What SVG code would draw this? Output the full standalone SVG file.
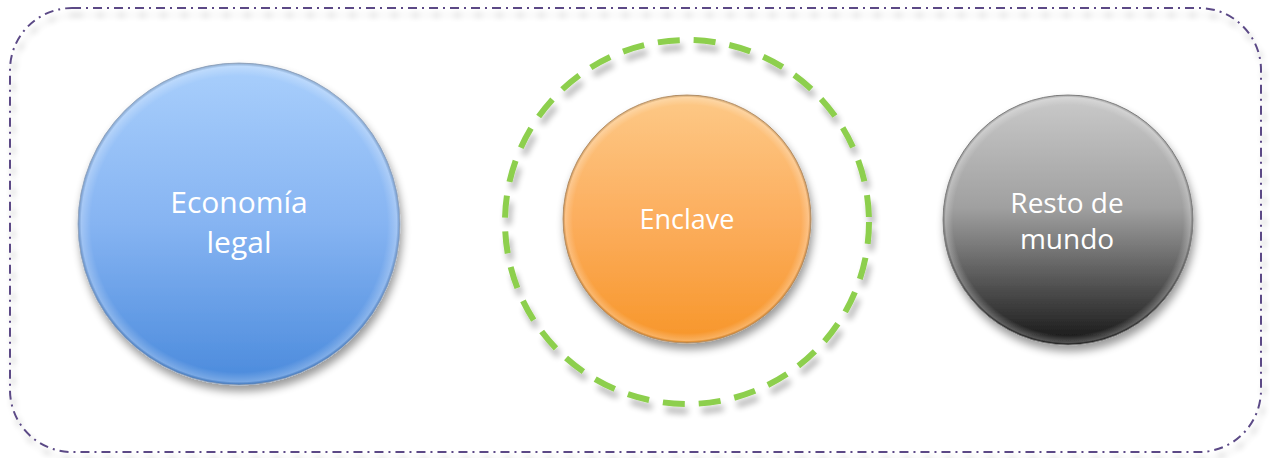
<svg xmlns="http://www.w3.org/2000/svg" width="1270" height="458" viewBox="0 0 1270 458">
<defs>
<linearGradient id="gBlue" x1="0" y1="0" x2="0" y2="1">
<stop offset="0" stop-color="#a9cffc"/>
<stop offset="0.5" stop-color="#86b4f2"/>
<stop offset="1" stop-color="#4a8adc"/>
</linearGradient>
<linearGradient id="gOrange" x1="0" y1="0" x2="0" y2="1">
<stop offset="0" stop-color="#fdc987"/>
<stop offset="0.5" stop-color="#fcae5e"/>
<stop offset="1" stop-color="#f7962a"/>
</linearGradient>
<linearGradient id="gGray" x1="0" y1="0" x2="0" y2="1">
<stop offset="0" stop-color="#cacaca"/>
<stop offset="0.45" stop-color="#a0a0a0"/>
<stop offset="1" stop-color="#151515"/>
</linearGradient>
<radialGradient id="gRim" cx="0.5" cy="0.5" r="0.5">
<stop offset="0.92" stop-color="#ffffff" stop-opacity="0"/>
<stop offset="0.98" stop-color="#ffffff" stop-opacity="0.25"/>
<stop offset="1" stop-color="#000000" stop-opacity="0.15"/>
</radialGradient>
<filter id="shadow" x="-20%" y="-20%" width="140%" height="150%">
<feGaussianBlur in="SourceAlpha" stdDeviation="4"/>
<feOffset dx="2" dy="6" result="b"/>
<feComponentTransfer><feFuncA type="linear" slope="0.4"/></feComponentTransfer>
<feMerge><feMergeNode/><feMergeNode in="SourceGraphic"/></feMerge>
</filter>
<filter id="shadowLine" x="-10%" y="-10%" width="120%" height="125%">
<feGaussianBlur in="SourceAlpha" stdDeviation="3"/>
<feOffset dx="3" dy="7" result="b"/>
<feComponentTransfer><feFuncA type="linear" slope="0.3"/></feComponentTransfer>
<feMerge><feMergeNode/><feMergeNode in="SourceGraphic"/></feMerge>
</filter>
</defs>
<style>
.lbl{font-family:"Open Sans","Noto Sans","DejaVu Sans",sans-serif;fill:#ffffff;text-anchor:middle;}
</style>
<g id="frame">
<rect x="10" y="8" width="1251" height="444" rx="62" ry="62" fill="none" stroke="#5b4a86" stroke-width="2" stroke-dasharray="9,5,2,5" filter="url(#shadowLine)"/>
</g>
<g id="economia">
<circle cx="239" cy="224" r="161" fill="url(#gBlue)" stroke="#9fb2cc" stroke-width="1" filter="url(#shadow)"/>
<circle cx="239" cy="224" r="161" fill="url(#gRim)"/>
<text class="lbl" x="239" y="213" font-size="30">Economía</text>
<text class="lbl" x="239" y="253" font-size="30">legal</text>
</g>
<g id="enclave-boundary">
<circle cx="687" cy="222" r="182" fill="none" stroke="#8dcf4d" stroke-width="6" stroke-dasharray="22,14" filter="url(#shadowLine)"/>
</g>
<g id="enclave">
<circle cx="687" cy="219" r="124" fill="url(#gOrange)" stroke="#c09a70" stroke-width="1" filter="url(#shadow)"/>
<circle cx="687" cy="219" r="124" fill="url(#gRim)"/>
<text class="lbl" x="687" y="229" font-size="27">Enclave</text>
</g>
<g id="resto">
<circle cx="1068" cy="220" r="125" fill="url(#gGray)" stroke="#888888" stroke-width="1" filter="url(#shadow)"/>
<circle cx="1068" cy="220" r="125" fill="url(#gRim)"/>
<text class="lbl" x="1067" y="213" font-size="28">Resto de</text>
<text class="lbl" x="1067" y="249" font-size="28">mundo</text>
</g>
<g id="connectors"></g>
</svg>
